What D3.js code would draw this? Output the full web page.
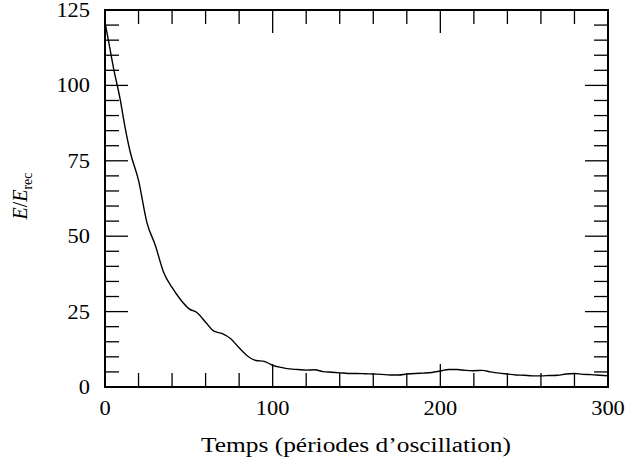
<!DOCTYPE html>
<html>
<head>
<meta charset="utf-8">
<script src="https://cdn.jsdelivr.net/npm/d3@7"></script>
<style>
  body { margin: 0; background: #fff; }
  text { font-family: "Liberation Serif", "Times New Roman", serif; fill: #000; }
</style>
</head>
<body>
<svg id="chart" width="628" height="466"></svg>
<script>
const times = [0, 3, 5, 9, 12, 15, 20, 25, 30, 35, 40, 45, 50, 55, 60, 65, 70, 75, 80, 85, 90, 95, 100,
  105, 110, 115, 120, 125, 130, 135, 140, 145, 150, 155, 160, 165, 170, 175, 180, 185, 190, 195, 200,
  205, 210, 215, 220, 225, 230, 235, 240, 245, 250, 255, 260, 265, 270, 275, 280, 285, 290, 295, 300];
const energy = [121, 112, 106, 95.5, 86, 78, 68.5, 54.5, 47, 38, 33, 29, 26, 24.6, 21.5, 18.5, 17.7, 16, 13, 10.3, 8.8, 8.5, 7.2,
  6.5, 6, 5.8, 5.6, 5.7, 5.1, 4.9, 4.7, 4.5, 4.5, 4.4, 4.3, 4.2, 4.0, 4.0, 4.3, 4.5, 4.6, 4.8, 5.3,
  5.8, 5.8, 5.5, 5.4, 5.5, 5.0, 4.6, 4.3, 4.0, 3.9, 3.7, 3.7, 3.8, 3.9, 4.3, 4.5, 4.2, 4.1, 3.9, 3.7];
const xTickLabels = [0, 100, 200, 300];
const yTickLabels = [0, 25, 50, 75, 100, 125];
const xMinorStep = 20;
const yMinorStep = 5;

const svg = d3.select("#chart");
const L = 105, R = 608, T = 10, B = 387;
const x = d3.scaleLinear().domain([0, 300]).range([L, R]);
const y = d3.scaleLinear().domain([0, 125]).range([B, T]);

const xMinor = d3.range(0, 300 + 1e-9, xMinorStep).filter(v => !xTickLabels.includes(v));
const yMinor = d3.range(0, 125 + 1e-9, yMinorStep).filter(v => !yTickLabels.includes(v));
const minorLen = 14, majorLen = 23;

const g = svg.append("g").attr("stroke", "#000").attr("stroke-width", 1.3);
[[xMinor, minorLen], [xTickLabels, majorLen]].forEach(([vals, len]) => {
  vals.forEach(v => {
    g.append("line").attr("x1", x(v)).attr("x2", x(v)).attr("y1", B).attr("y2", B - len);
    g.append("line").attr("x1", x(v)).attr("x2", x(v)).attr("y1", T).attr("y2", T + len);
  });
});
[[yMinor, minorLen], [yTickLabels, majorLen]].forEach(([vals, len]) => {
  vals.forEach(v => {
    g.append("line").attr("y1", y(v)).attr("y2", y(v)).attr("x1", L).attr("x2", L + len);
    g.append("line").attr("y1", y(v)).attr("y2", y(v)).attr("x1", R).attr("x2", R - len);
  });
});

const data = times.map((t, i) => ({ t, e: energy[i] }));
svg.append("path").datum(data)
  .attr("fill", "none").attr("stroke", "#000").attr("stroke-width", 1.4)
  .attr("stroke-linejoin", "round")
  .attr("d", d3.line().x(d => x(d.t)).y(d => y(d.e)).curve(d3.curveMonotoneX));

svg.append("rect").attr("x", L).attr("y", T).attr("width", R - L).attr("height", B - T)
  .attr("fill", "none").attr("stroke", "#000").attr("stroke-width", 2);

const digitW = 11.2;
svg.selectAll(".xl").data(xTickLabels).enter().append("text")
  .attr("x", d => x(d)).attr("y", 415).attr("text-anchor", "middle")
  .attr("font-size", 20)
  .attr("textLength", d => String(d).length * digitW).attr("lengthAdjust", "spacingAndGlyphs")
  .text(d => d);
svg.selectAll(".yl").data(yTickLabels).enter().append("text")
  .attr("x", 90).attr("y", d => y(d) + 7).attr("text-anchor", "end")
  .attr("font-size", 20)
  .attr("textLength", d => String(d).length * digitW).attr("lengthAdjust", "spacingAndGlyphs")
  .text(d => d);

svg.append("text").attr("x", 356).attr("y", 452).attr("text-anchor", "middle")
  .attr("font-size", 20).attr("textLength", 310).attr("lengthAdjust", "spacingAndGlyphs")
  .text("Temps (périodes d’oscillation)");

const yt = svg.append("text").attr("transform", "translate(27,196) rotate(-90)")
  .attr("text-anchor", "middle").attr("font-size", 20);
yt.append("tspan").attr("font-style", "italic").text("E");
yt.append("tspan").text("/");
yt.append("tspan").attr("font-style", "italic").text("E");
yt.append("tspan").attr("font-size", 14).attr("dy", 5).text("rec");
</script>
</body>
</html>
